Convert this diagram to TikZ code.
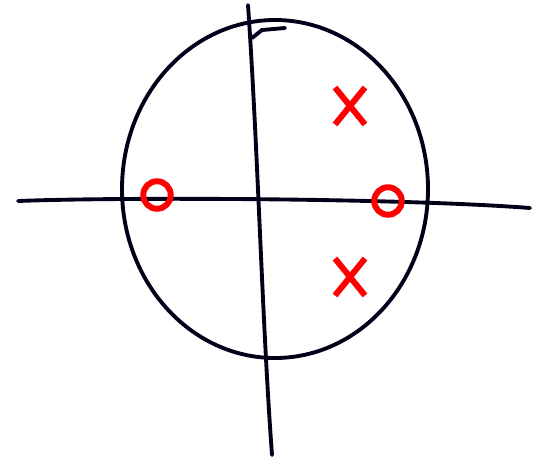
\documentclass[tikz,border=0pt]{standalone}
\usepackage{tikz}
\usetikzlibrary{shapes.misc}
\tikzset{
  axisline/.style={line width=2.2pt, draw=black!90!blue, line cap=round},
  unitcirc/.style={line width=2.2pt, draw=black!90!blue, line cap=round},
  zeromark/.style={draw=red, circle, line width=3.4pt, minimum size=0.55cm, inner sep=0pt},
  polemark/.style={draw=red, cross out, line width=3.4pt, minimum width=0.48cm, minimum height=0.62cm, inner sep=0pt}
}
\begin{document}
\begin{tikzpicture}[x=0.02cm, y=-0.02cm]
      \useasboundingbox (0,0) rectangle (541,464);
      % axes
      \coordinate (xl) at (18,201);
      \coordinate (xr) at (530,208);
      \coordinate (yt) at (248,5);
      \coordinate (yb) at (272,455);
      \draw[axisline] (xl) .. controls (120,197) and (400,198) .. (xr);
      \draw[axisline] (yt) .. controls (258,150) and (262,320) .. (yb);
      % circle
      \coordinate (c) at (275,189);
      \draw[unitcirc] (c) ellipse [x radius=153, y radius=169];
      \draw[unitcirc] (252,38) -- (262,30) -- (285,28);
      % zeros and poles
      \node[zeromark] (z1) at (157,195) {};
      \node[zeromark] (z2) at (388,201) {};
      \node[polemark] (p1) at (350,106) {};
      \node[polemark] (p2) at (350,277) {};
    \end{tikzpicture}
\end{document}
